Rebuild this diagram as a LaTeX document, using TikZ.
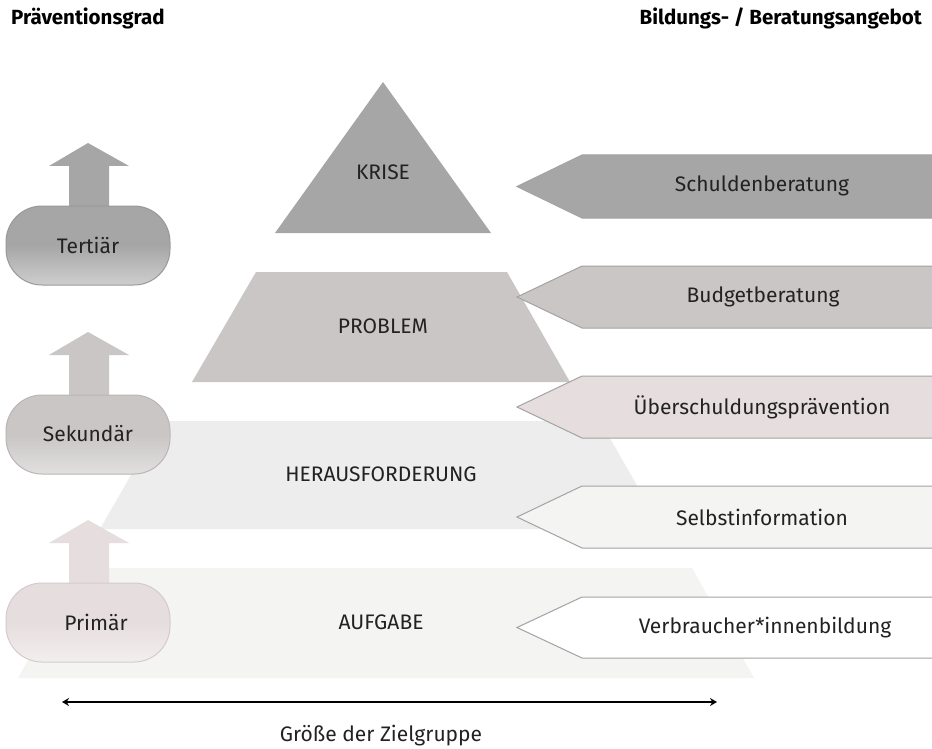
\documentclass[tikz,border=0pt]{standalone}
\usepackage{fontspec}
\setmainfont{Fira Sans}
\usetikzlibrary{arrows.meta}
\definecolor{cA}{HTML}{A6A6A6}
\definecolor{cB}{HTML}{C9C6C5}
\definecolor{cC}{HTML}{E6DDDE}
\definecolor{cD}{HTML}{EDEDED}
\definecolor{cE}{HTML}{F4F4F3}
\definecolor{cEdge}{HTML}{A3A3A3}
\definecolor{txt}{HTML}{222222}
\tikzset{
  lbl/.style={font=\fontsize{21}{24}\selectfont, text=txt, inner sep=0pt},
  hdr/.style={font=\fontsize{20.5}{24}\selectfont\bfseries, text=black, inner sep=0pt},
  pent/.style={draw=cEdge, line width=1pt},
  pill/.style={rounded corners=36pt, line width=1pt},
}
\newcommand{\pentagon}[4]{% fill, top y, bottom y, name
  \draw[pent, fill=#1] (932,#2) -- (582,#2) -- (517,{(#2+#3)/2}) -- (582,#3) -- (932,#3);
}
\begin{document}
\begin{tikzpicture}[x=1pt,y=-1pt]
\useasboundingbox (0,0) rectangle (932,749);
\fill[white] (0,0) rectangle (932,749);

% headers
\node[hdr, anchor=west] (hl) at (11,18) {Präventionsgrad};
\node[hdr, anchor=east] (hr) at (922,18) {Bildungs- / Beratungsangebot};

% pyramid
\fill[cE] (18,678) -- (80,568) -- (692,568) -- (754,678) -- cycle;
\fill[cD] (100,529) -- (162,421) -- (600,421) -- (662,529) -- cycle;
\fill[cB] (192,382) -- (256,272) -- (507,272) -- (570,382) -- cycle;
\fill[cA] (275,233) -- (383,82) -- (491,233) -- cycle;
\node[lbl] (krise) at (383,172) {KRISE};
\node[lbl] (problem) at (383,326) {PROBLEM};
\node[lbl] (heraus) at (381,474) {HERAUSFORDERUNG};
\node[lbl] (aufgabe) at (381,622) {AUFGABE};

% right pentagons
\pentagon{cA}{155}{218}{p1}
\pentagon{cB}{266}{328}{p2}
\pentagon{cC}{376}{438}{p3}
\pentagon{cE}{486}{548}{p4}
\pentagon{white}{597}{658}{p5}
\node[lbl] (t1) at (762,186) {Schuldenberatung};
\node[lbl] (t2) at (763,297) {Budgetberatung};
\node[lbl] (t3) at (762,407) {Überschuldungsprävention};
\node[lbl] (t4) at (762,517) {Selbstinformation};
\node[lbl] (t5) at (765,628) {Verbraucher*innenbildung};

% left pills with up arrows
\foreach \c/\lc/\y/\t/\tx in {cA/cA!55!white/206/Tertiär/88, cB/cB!55!white/395/Sekundär/88, cC/cC!50!white/583/Primär/96}{
  \fill[\c] (69,\y-22) -- (69,\y-40) -- (49,\y-40) -- (88,\y-63) -- (129,\y-40) -- (109,\y-40) -- (109,\y-22) -- (109,\y+5) -- (69,\y+5) -- cycle;
  \draw[pill, draw=\c!92!black, top color=\c, bottom color=\lc, middle color=\c] (6,\y) rectangle (170,\y+79);
  \node[lbl] at (\tx,\y+39) {\t};
}

% bottom arrow
\coordinate (al) at (62,702);
\coordinate (ar) at (717,702);
\draw[line width=2.5pt, {Stealth[length=7pt,width=8pt]}-{Stealth[length=7pt,width=8pt]}] (al) -- (ar);
\node[lbl] (groesse) at (381,736) {Größe der Zielgruppe};
\end{tikzpicture}
\end{document}
